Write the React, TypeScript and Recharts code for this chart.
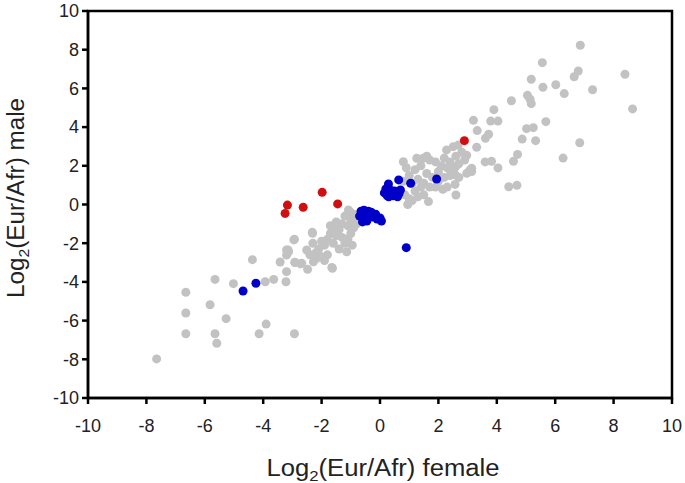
import React from "react";
import { ScatterChart, Scatter, XAxis, YAxis, ReferenceArea, Label } from "recharts";

// log2 ratios: [female, male]
const grayPoints: [number, number][] = [
  [6.86, 8.23], [5.56, 7.33], [8.39, 6.73], [6.79, 6.9], [6.65, 6.6], [5.18, 6.47],
  [6.02, 6.19], [5.58, 6.06], [7.28, 5.93], [6.31, 5.73], [5.05, 5.64], [5.14, 5.44],
  [5.18, 5.21], [4.5, 5.36], [8.65, 4.94], [3.9, 4.9], [3.2, 4.35], [3.79, 4.31],
  [4.04, 4.31], [5.68, 4.28], [3.33, 3.82], [5.02, 3.92], [5.25, 3.97], [3.72, 3.63],
  [3.61, 3.42], [4.87, 3.38], [5.33, 3.3], [6.84, 3.19], [3.31, 2.96], [4.71, 2.59],
  [4.57, 2.23], [3.6, 2.2], [3.82, 2.23], [6.27, 2.4], [4.04, 1.89], [3.14, 1.87],
  [3.14, 1.7], [4.41, 0.92], [4.69, 0.99], [2.97, 2.54], [2.59, 1.95], [0.8, 2.21],
  [1.26, 2.39], [1.48, 2.39], [2.28, 2.82], [2.51, 2.99], [2.68, 3.07], [2.57, 1.04],
  [2.15, 0.79], [2.6, 0.49], [1.66, 0.15], [3.08, 1.78], [2.97, 1.61], [2.59, 1.52],
  [0.85, 0.5], [1.0, 0.3], [1.2, 0.7], [1.1, 0.2], [1.4, 0.9], [1.3, 1.3], [1.5, 1.1],
  [1.6, 1.6], [1.8, 1.4], [1.7, 0.9], [2.0, 1.7], [2.1, 2.0], [1.9, 2.2], [2.3, 1.9],
  [2.2, 2.4], [2.4, 2.2], [2.6, 2.5], [2.5, 1.9], [1.2, 1.8], [1.0, 1.5], [0.9, 1.9],
  [1.4, 2.0], [1.7, 2.3], [2.0, 1.2], [2.2, 1.4], [2.7, 2.1], [2.8, 2.7], [1.5, 0.5],
  [1.9, 0.9], [2.3, 0.9], [2.7, 1.4], [1.1, 1.1], [0.8, 1.2], [1.6, 2.5], [2.9, 2.3],
  [2.4, 1.5], [0.95, 0.0], [1.3, 0.4],
  [-1.08, -0.28], [-1.03, -0.37], [-2.32, -1.44], [-2.95, -1.83], [-3.2, -2.35],
  [-1.14, -2.44], [-1.65, -3.25], [-2.91, -3.0], [-2.68, -3.04], [-2.51, -2.35],
  [-2.17, -2.78], [-0.9, -0.5], [-1.0, -0.8], [-1.2, -0.6], [-1.1, -1.1], [-1.3, -1.0],
  [-1.4, -1.3], [-0.9, -1.2], [-1.6, -1.2], [-1.5, -1.6], [-1.7, -1.5], [-1.8, -1.8],
  [-1.3, -1.7], [-1.9, -2.1], [-2.0, -1.9], [-2.1, -2.3], [-1.6, -2.0], [-1.2, -2.0],
  [-2.2, -2.5], [-1.8, -2.6], [-2.0, -2.7], [-1.4, -2.3], [-0.8, -1.0], [-1.0, -1.5],
  [-0.7, -0.7], [-1.5, -0.9], [-1.7, -1.1], [-2.3, -2.0], [-1.9, -2.9], [-2.4, -2.6],
  [-1.1, -1.8], [-0.95, -2.1], [-1.63, -3.3], [-2.48, -3.35], [-2.28, -2.96],
  [-3.13, -2.44], [-2.93, -1.8], [-2.92, -2.99], [-2.72, -3.07], [-2.31, -1.49],
  [-3.42, -2.97], [-3.2, -2.61], [-3.15, -2.35], [-3.2, -3.47], [-3.22, -3.99],
  [-3.93, -3.99], [-3.64, -3.87], [-4.37, -2.85], [-2.93, -6.68],
  [-7.65, -7.98], [-6.65, -4.54], [-6.65, -5.61], [-6.65, -6.68], [-5.82, -5.18],
  [-5.65, -3.87], [-5.65, -6.68], [-5.59, -7.17], [-5.27, -5.9], [-5.02, -4.09],
  [-3.9, -6.18], [-4.14, -6.68],
];

const bluePoints: [number, number][] = [
  [-4.69, -4.47], [-4.25, -4.07], [0.9, -2.23],
  [-0.65, -0.35], [-0.55, -0.3], [-0.4, -0.35], [-0.3, -0.4], [-0.15, -0.5], [0.0, -0.7],
  [-0.7, -0.6], [-0.55, -0.65], [-0.4, -0.6], [-0.25, -0.65], [-0.1, -0.75], [0.05, -0.85],
  [-0.6, -0.9], [-0.45, -0.85],
  [0.29, 1.06], [0.64, 1.27], [1.05, 1.1], [1.94, 1.32], [0.15, 0.6], [0.25, 0.45],
  [0.35, 0.55], [0.45, 0.45], [0.55, 0.5], [0.65, 0.55], [0.2, 0.8], [0.35, 0.75],
  [0.5, 0.7], [0.3, 0.4], [0.6, 0.4], [0.7, 0.75],
];

const redPoints: [number, number][] = [
  [-3.17, -0.03], [-3.25, -0.46], [-2.63, -0.14], [-1.98, 0.63], [-1.45, 0.03], [2.89, 3.3],
];

const axisTicks = [-10, -8, -6, -4, -2, 0, 2, 4, 6, 8, 10];

const toRows = (pts: [number, number][]) => pts.map(([female, male]) => ({ female, male }));

const font = "Liberation Sans, Arial, Helvetica, sans-serif";
const tickStyle = { fontSize: 18, fill: "#222", fontFamily: font };

const Dot = (color: string, r: number) => (props: any) =>
  <circle cx={props.cx} cy={props.cy} r={r} fill={color} />;

export default function App() {
  return (
    <div style={{ position: "absolute", left: 0, top: 0, background: "#fff" }}>
      <ScatterChart width={685} height={483} margin={{ top: 11, right: 13, bottom: 0, left: 0 }}>
        <XAxis
          type="number"
          dataKey="female"
          domain={[-10, 10]}
          ticks={axisTicks}
          allowDataOverflow
          height={85}
          stroke="#000"
          strokeWidth={2.5}
          tickSize={6}
          tickMargin={15}
          tick={tickStyle}
        >
          <Label
            content={(p: any) => {
              const vb = p.viewBox;
              return (
                <text x={vb.x + vb.width / 2 + 3} y={vb.y + 78} textAnchor="middle" fontSize={23} fill="#222"
                  fontFamily={font} textLength={233} lengthAdjust="spacingAndGlyphs">
                  Log<tspan fontSize={15} dy={5}>2</tspan>
                  <tspan dy={-5}>(Eur/Afr) female</tspan>
                </text>
              );
            }}
          />
        </XAxis>
        <YAxis
          type="number"
          dataKey="male"
          domain={[-10, 10]}
          ticks={axisTicks}
          allowDataOverflow
          width={88}
          stroke="#000"
          strokeWidth={2.5}
          tickSize={6}
          tickMargin={3}
          tick={tickStyle}
        >
          <Label
            content={() => {
              const cy = 198;
              return (
                <text x={24} y={cy} transform={`rotate(-90, 24, ${cy})`} textAnchor="middle" fontSize={23} fill="#222"
                  fontFamily={font} textLength={200} lengthAdjust="spacingAndGlyphs">
                  Log<tspan fontSize={15} dy={5}>2</tspan>
                  <tspan dy={-5}>(Eur/Afr) male</tspan>
                </text>
              );
            }}
          />
        </YAxis>
        <ReferenceArea x1={-10} x2={10} y1={-10} y2={10} fill="none" stroke="#000" strokeWidth={2.5} ifOverflow="visible" />
        <Scatter data={toRows(grayPoints)} isAnimationActive={false} shape={Dot("#c2c2c2", 4.5)} />
        <Scatter data={toRows(bluePoints)} isAnimationActive={false} shape={Dot("#0000c8", 4.5)} />
        <Scatter data={toRows(redPoints)} isAnimationActive={false} shape={Dot("#d01010", 4.5)} />
      </ScatterChart>
    </div>
  );
}
